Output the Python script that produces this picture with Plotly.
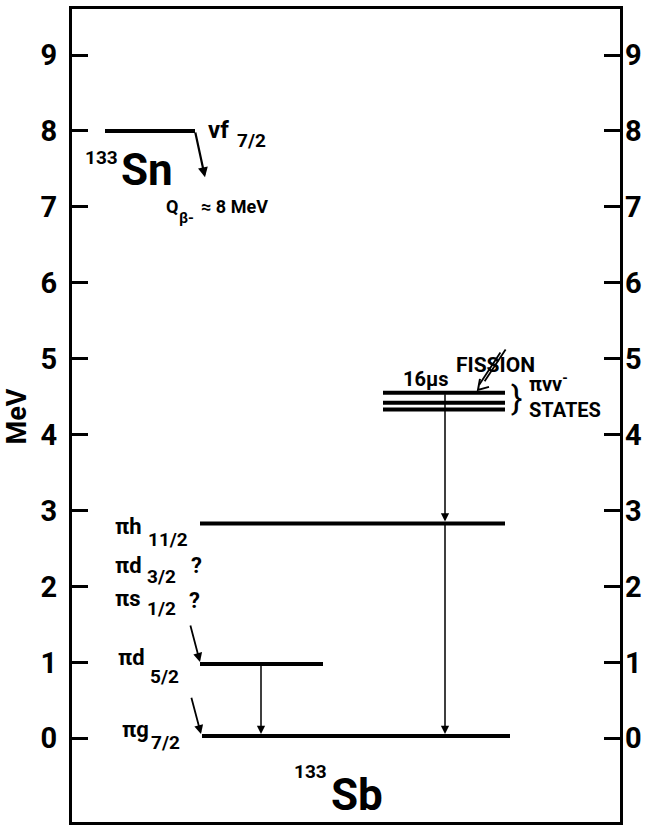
import plotly.graph_objects as go

# ---------------- data ----------------
tick_values = [0, 1, 2, 3, 4, 5, 6, 7, 8, 9]
tick_labels = ["0", "1", "2", "3", "4", "5", "6", "7", "8", "9"]

sn_level_E = 8.0                       # 133Sn nu f7/2 level (MeV)
sn_arrow_end_E = 7.39                  # end of beta-decay arrow
sb_ground_E = 0.03                     # pi g7/2
sb_d52_E = 0.98                        # pi d5/2
sb_h112_E = 2.83                       # pi h11/2
sb_isomer_E = [4.33, 4.42, 4.55]       # pi nu nu^- states (16 us isomer at top)

# ---------------- layout constants ----------------
W, H = 650, 830
ML, MR, MT, MB = 72, 30, 6, 8
Y0, Y1 = -1.102, 9.606
PX_PER_E = (H - MT - MB) / (Y1 - Y0)


def dy(px):
    return px / PX_PER_E


def ey(py):
    """vertical page position (px) -> data value (for text placement)"""
    return Y1 - (py - MT) / PX_PER_E


FONT = "Roboto"
BLACK = "black"

fig = go.Figure()


def seg_trace(xs, ys, width):
    fig.add_trace(go.Scatter(x=xs, y=ys, mode="lines",
                             line=dict(color=BLACK, width=width),
                             hoverinfo="skip", showlegend=False))


# level lines
lx, ly = [], []


def add_level(x0, x1, E):
    lx.extend([x0, x1, None]); ly.extend([E, E, None])


add_level(105, 195, sn_level_E)
add_level(202, 510, sb_ground_E)
add_level(200, 323, sb_d52_E)
add_level(200, 505, sb_h112_E)
for E in sb_isomer_E:
    add_level(383, 505, E)
seg_trace(lx, ly, 4)

# fission double arrow (two parallel shafts + open head)
tip = (478, sb_isomer_E[-1] + dy(3))
tail = (503, sb_isomer_E[-1] + dy(42))
ox = 2.6
seg_trace([tail[0] - ox, tip[0] + 4 - ox, None, tail[0] + ox, tip[0] + 4 + ox],
          [tail[1] - dy(ox * 0.6), tip[1] + dy(7) - dy(ox * 0.6), None,
           tail[1] + dy(ox * 0.6), tip[1] + dy(7) + dy(ox * 0.6)], 1.8)
seg_trace([tip[0] + 2, tip[0], tip[0] + 11],
          [tip[1] + dy(11), tip[1], tip[1] + dy(3)], 2)

# invisible trace for right axis
fig.add_trace(go.Scatter(x=[300], y=[0], yaxis="y2", mode="markers",
                         marker=dict(opacity=0), hoverinfo="skip", showlegend=False))

ann = []


def arrow(x_head, y_head, x_tail, y_tail, width=1.5, head=2, size=1.0):
    ann.append(dict(x=x_head, y=y_head, ax=x_tail, ay=y_tail, xref="x", yref="y",
                    axref="x", ayref="y", showarrow=True, arrowhead=head,
                    arrowsize=size, arrowwidth=width, arrowcolor=BLACK,
                    standoff=0, startstandoff=0, text=""))


# transitions
arrow(205, sn_arrow_end_E, 195, sn_level_E, width=2.2, size=0.9)
arrow(445, sb_h112_E + dy(2), 445, sb_isomer_E[-1], width=1.5, size=1.1)
arrow(445, sb_ground_E + dy(2), 445, sb_h112_E, width=1.5, size=1.1)
arrow(261, sb_ground_E + dy(2), 261, sb_d52_E, width=1.5, size=1.1)
arrow(200, sb_d52_E + dy(2), 190, sb_d52_E + dy(40), width=1.8, size=1.0)
arrow(201, sb_ground_E + dy(2), 191, sb_ground_E + dy(40), width=1.8, size=1.0)


def text(x, py, s, size, xanchor="left", bold=True):
    ann.append(dict(x=x, y=ey(py), xref="x", yref="y", text=(f"<b>{s}</b>" if bold else s),
                    showarrow=False, xanchor=xanchor, yanchor="middle", align="left",
                    font=dict(family=FONT, size=size, color=BLACK)))


MAIN, SUB = 22, 19

# 133Sn side
text(206, 127, "\u03bdf", 24)
text(235, 138, "7/2", SUB)
text(120, 155, "133", 19, xanchor="right")
text(119, 168, "Sn", 44)
text(164, 204, "Q", 18)
text(177, 216, "\u03b2-", 15)
text(199, 204, "\u2248 8 MeV", 18)

# 133Sb labels
text(113, 525, "\u03c0h", MAIN)
text(146, 538, "11/2", SUB)
text(113, 565, "\u03c0d", MAIN)
text(145, 576, "3/2", SUB)
text(189, 565, "?", MAIN)
text(113, 598, "\u03c0s", MAIN)
text(145, 608, "1/2", SUB)
text(187, 600, "?", MAIN)
text(116, 657, "\u03c0d", MAIN)
text(148, 676, "5/2", SUB)
text(120, 729, "\u03c0g", MAIN)
text(149, 742, "7/2", SUB)

text(329, 771, "133", 19, xanchor="right")
text(329, 795, "Sb", 44)

# isomer region
text(401, 377, "16\u00b5s", 20)
text(454, 363, "FISSION", 21)
text(509, 396, "}", 34, bold=False)
text(527, 394, "\u03c0\u03bd\u03bd<sup>-</sup><br>STATES", 20)

ann.append(dict(x=(17 - ML) / (W - ML - MR), y=(H - MB - 415) / (H - MT - MB),
                xref="paper", yref="paper", text="<b>MeV</b>",
                showarrow=False, textangle=-90, xanchor="center", yanchor="middle",
                font=dict(family=FONT, size=27, color=BLACK)))

axis_common = dict(range=[Y0, Y1], tickvals=tick_values, ticktext=tick_labels,
                   ticks="inside", ticklen=16, tickwidth=2.5, tickcolor=BLACK,
                   showgrid=False, zeroline=False,
                   tickfont=dict(family=FONT, size=29, color=BLACK, weight="bold"))

fig.update_layout(
    width=W, height=H,
    margin=dict(l=ML, r=MR, t=MT, b=MB),
    paper_bgcolor="white", plot_bgcolor="white",
    showlegend=False,
    xaxis=dict(range=[ML, W - MR], showticklabels=False, ticks="", showgrid=False,
               zeroline=False, showline=True, mirror=True, linewidth=3, linecolor=BLACK),
    yaxis=dict(**axis_common, side="left", showline=True, mirror=True,
               linewidth=3, linecolor=BLACK, ticklabelstandoff=6),
    yaxis2=dict(**axis_common, side="right", overlaying="y", showline=False,
                ticklabelstandoff=4),
    annotations=ann,
)

fig.write_html("out.html")
